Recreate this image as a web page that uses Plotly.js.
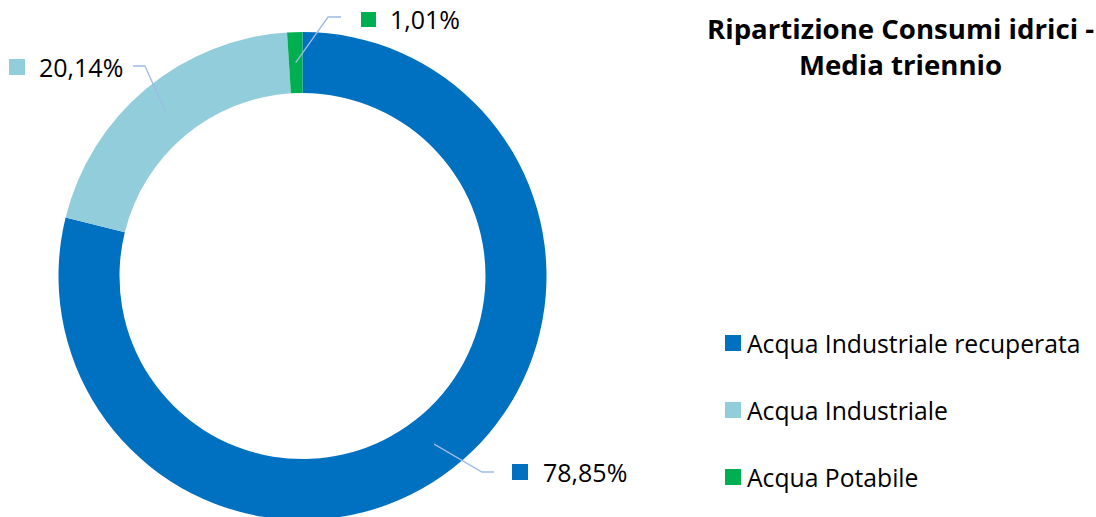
<!DOCTYPE html>
<html><head><meta charset="utf-8">
<script src="https://cdn.plot.ly/plotly-3.0.1.min.js"></script>
<style>html,body{margin:0;padding:0;overflow:hidden;background:#fff}</style>
</head><body><div id="chart" style="width:1096px;height:521px"></div>
<script>
// ---- data ----
const categories = ["Acqua Industriale recuperata", "Acqua Industriale", "Acqua Potabile"];
const values = [78.85, 20.14, 1.01];
const valueLabels = ["78,85%", "20,14%", "1,01%"];
const colors = ["#0070C0", "#92CDDC", "#00B050"];
const titleText = "Ripartizione Consumi idrici -<br>Media triennio";

// ---- layout helpers (pixels -> paper) ----
const W = 1096, H = 521;
const cx = 302.5, cy = 276, R = 244, hole = 0.75;
const px = x => x / W;
const py = y => 1 - y / H;
const FONT = "'Open Sans', 'Noto Sans', sans-serif";
const lineColor = "#9DBBE6";

const trace = {
  type: "pie", values: values, labels: categories, sort: false,
  direction: "clockwise", rotation: 0, hole: hole,
  marker: {colors: colors, line: {width: 0}},
  textinfo: "none", hoverinfo: "label+percent", showlegend: false,
  domain: {x: [px(cx - R), px(cx + R)], y: [py(cy + R), py(cy - R)]}
};

// label placement (elbow, end of leader, square, text) per slice
const labelPlace = [
  {elbow: [482, 472], end: [494, 472], sq: [512, 464], tx: [541, 472]},
  {elbow: [145, 66], end: [133, 66], sq: [9, 59], tx: [37, 67]},
  {elbow: [328, 17], end: [341, 17], sq: [361, 12], tx: [388, 19]}
];

const total = values.reduce((a, b) => a + b, 0);
const shapes = [], annotations = [];
let cum = 0;
values.forEach((v, i) => {
  const mid = (cum + v / 2) / total * 2 * Math.PI;
  cum += v;
  const rMid = R * (1 + hole) / 2;
  const ax = cx + rMid * Math.sin(mid), ay = cy - rMid * Math.cos(mid);
  const L = labelPlace[i];
  shapes.push({type: "path", xref: "paper", yref: "paper",
    path: `M${px(ax)},${py(ay)} L${px(L.elbow[0])},${py(L.elbow[1])} L${px(L.end[0])},${py(L.end[1])}`,
    line: {color: lineColor, width: 1.3}});
  const s = i === 2 ? 15 : 16;
  shapes.push({type: "rect", xref: "paper", yref: "paper",
    x0: px(L.sq[0]), x1: px(L.sq[0] + s), y0: py(L.sq[1]), y1: py(L.sq[1] + s),
    fillcolor: colors[i], line: {width: 0}});
  annotations.push({xref: "paper", yref: "paper", x: px(L.tx[0]), y: py(L.tx[1]),
    xanchor: "left", yanchor: "middle", showarrow: false, text: valueLabels[i],
    font: {family: FONT, size: 25, color: "#000"}});
});

// manual legend
const legendRows = [343, 410, 477];
categories.forEach((c, i) => {
  shapes.push({type: "rect", xref: "paper", yref: "paper",
    x0: px(725), x1: px(741), y0: py(legendRows[i] - 8), y1: py(legendRows[i] + 8),
    fillcolor: colors[i], line: {width: 0}});
  annotations.push({xref: "paper", yref: "paper", x: px(745), y: py(legendRows[i]),
    xanchor: "left", yanchor: "middle", showarrow: false, text: c,
    font: {family: FONT, size: 24.7, color: "#000"}});
});

// chart title (as annotation for exact placement)
annotations.push({xref: "paper", yref: "paper", x: px(900), y: py(46),
  xanchor: "center", yanchor: "middle", showarrow: false, text: titleText,
  font: {family: FONT, size: 27.6, weight: 700, color: "#000"}});

const layout = {
  width: W, height: H, margin: {l: 0, r: 0, t: 0, b: 0},
  paper_bgcolor: "#fff", plot_bgcolor: "#fff", showlegend: false,
  shapes: shapes, annotations: annotations
};

Plotly.newPlot("chart", [trace], layout, {displayModeBar: false, staticPlot: true});
</script></body></html>
